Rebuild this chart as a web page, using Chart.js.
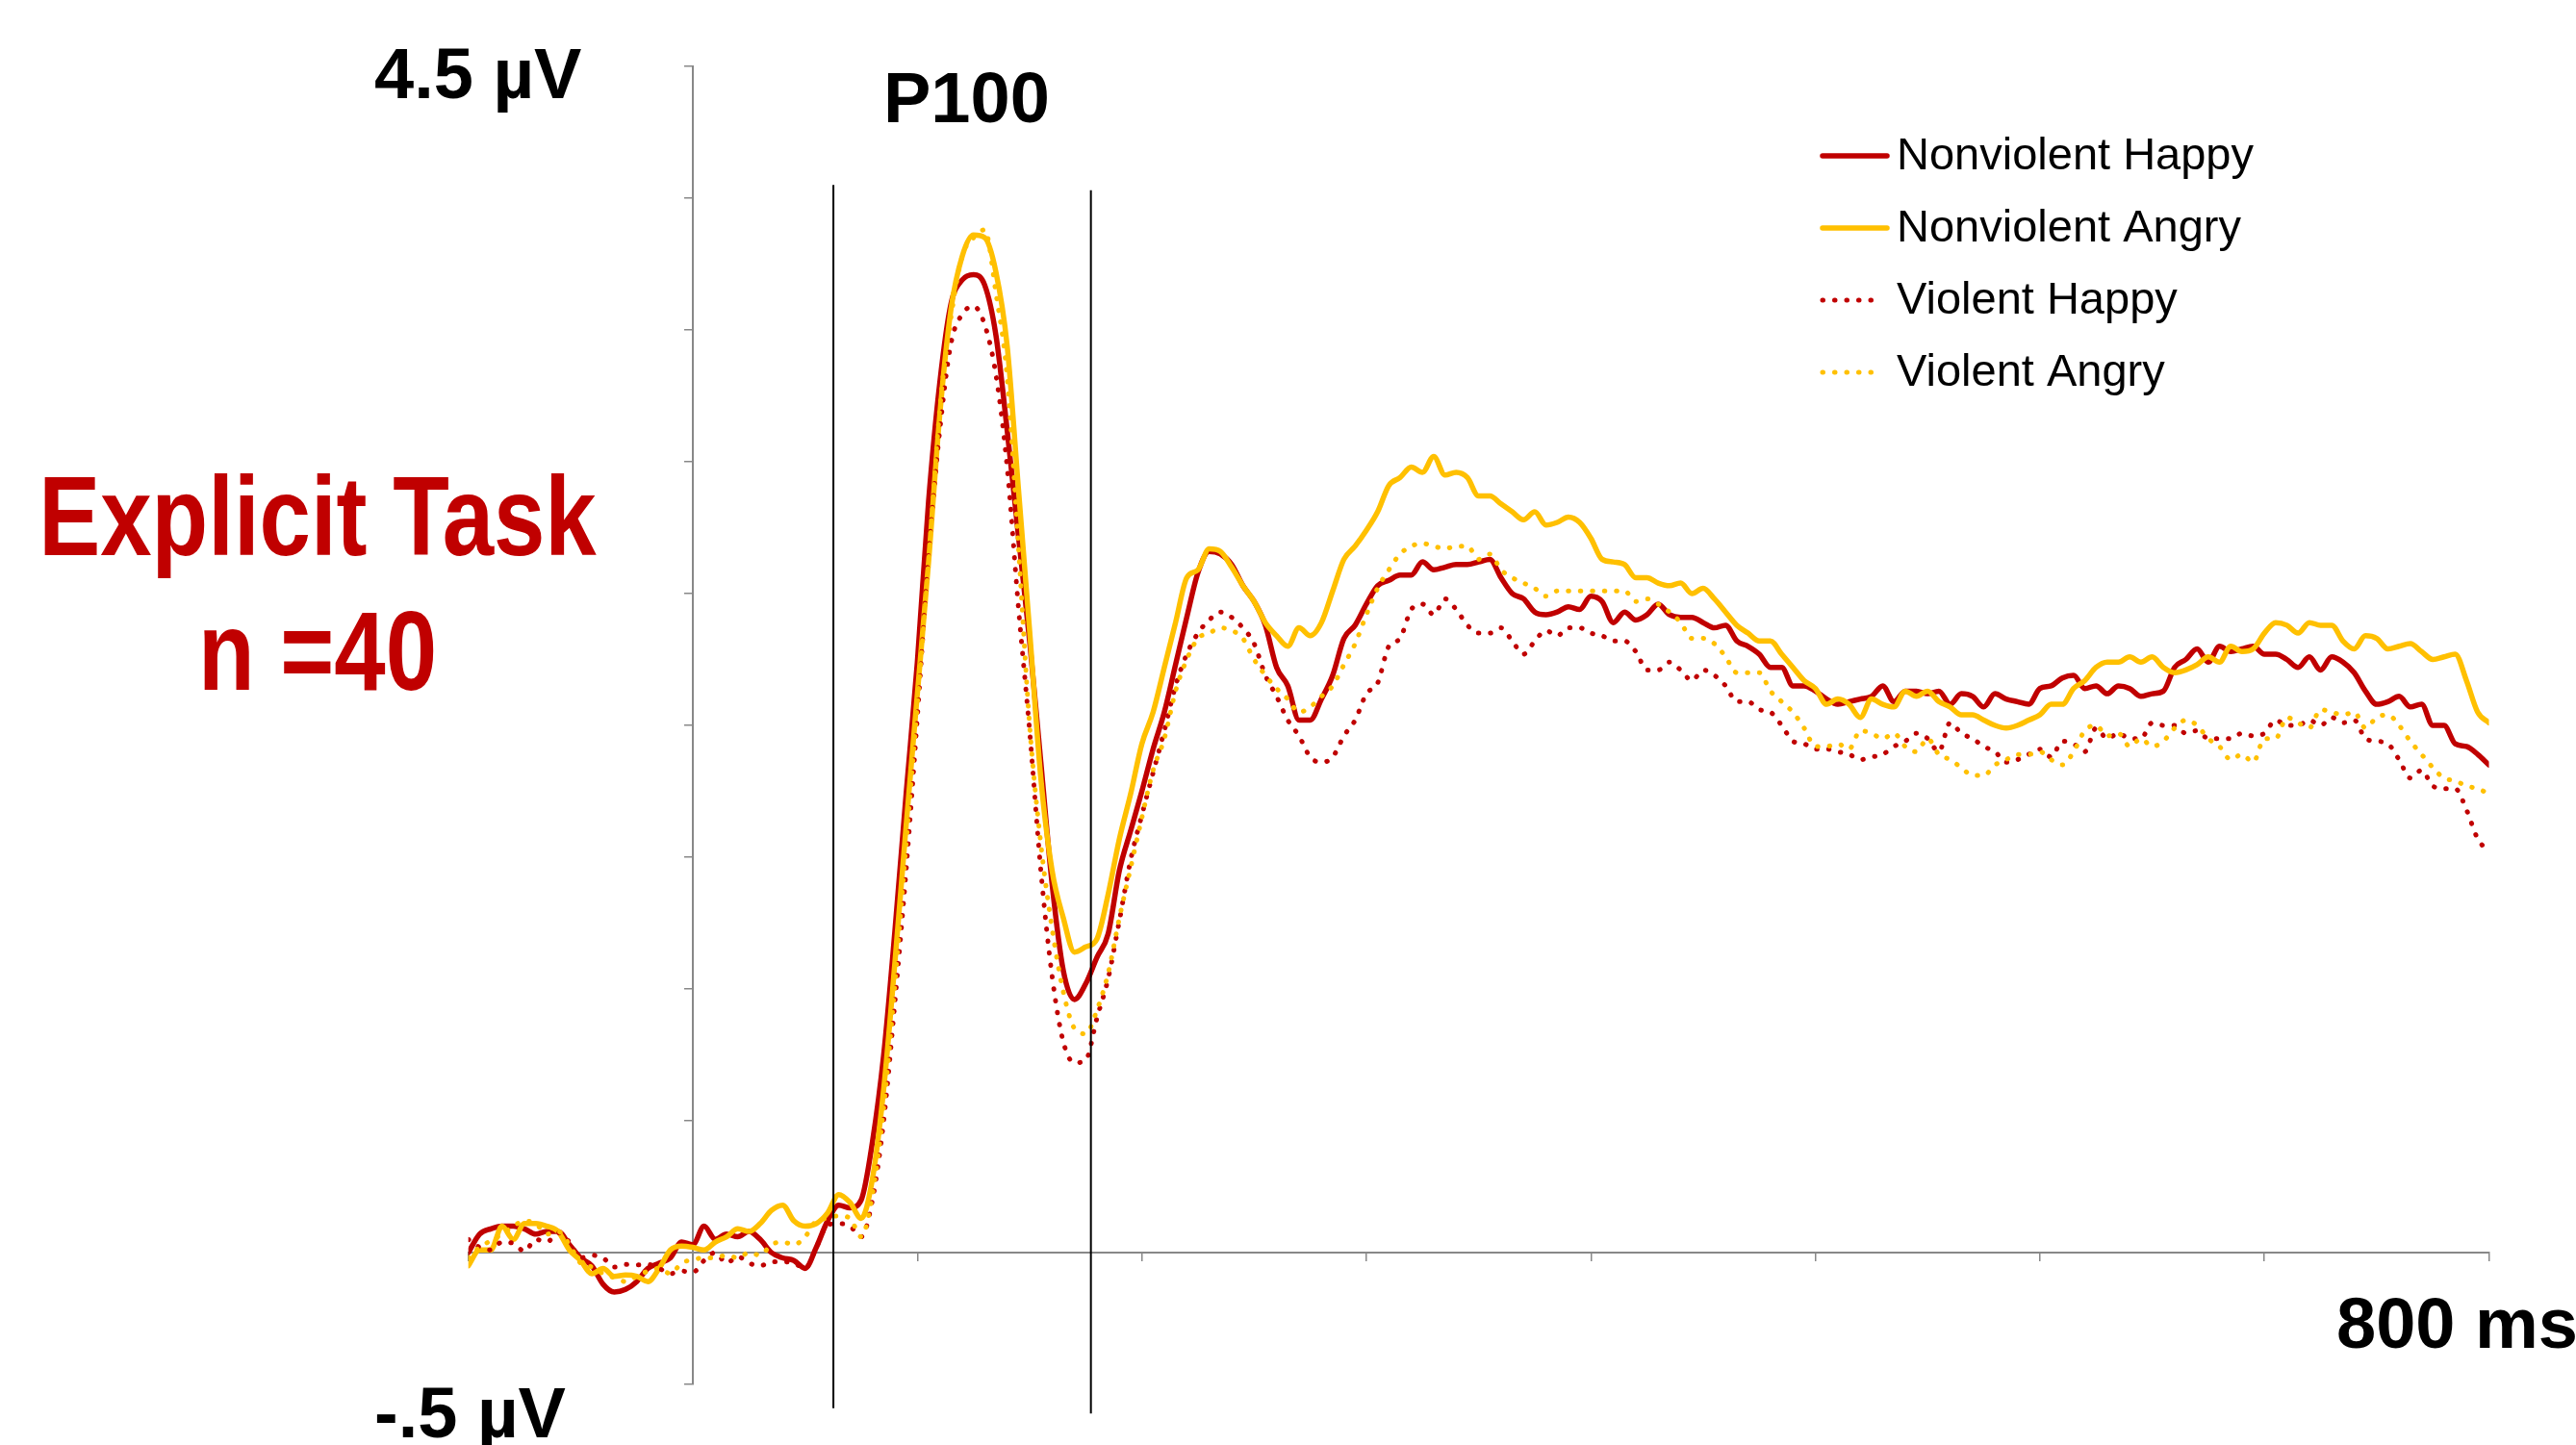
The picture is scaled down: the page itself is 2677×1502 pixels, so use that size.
<!DOCTYPE html>
<html lang="en">
<head>
<meta charset="UTF-8">
<title>P100 - Explicit Task</title>
<script src="https://cdn.jsdelivr.net/npm/chart.js"></script>
<style>
  html, body { margin: 0; padding: 0; background: #fff; overflow: hidden; }
  #wrap { position: relative; width: 2677px; height: 1502px; }
  #erp { position: absolute; left: 0; top: 0; }
  .lbl { position: absolute; font-family: "Liberation Sans", Arial, sans-serif; font-weight: bold;
         line-height: 1; white-space: nowrap; color: #000; }
  .big { font-size: 74px; }
  .task { color: #C00000; font-size: 117px; width: 800px; left: -70px; text-align: center;
          transform: scaleX(0.82); transform-origin: 400px 0; }
</style>
</head>
<body>
<div id="wrap">
  <canvas id="erp" width="2677" height="1502"></canvas>
  <div class="lbl big" style="left:389px; top:40px;">4.5 µV</div>
  <div class="lbl big" style="left:389px; top:1432px;">-.5 µV</div>
  <div class="lbl big" style="left:918px; top:65px;">P100</div>
  <div class="lbl big" style="left:2428px; top:1339px;">800 ms</div>
  <div class="lbl task" style="top:478px;">Explicit Task</div>
  <div class="lbl task" style="top:618px;">n =40</div>
</div>
<script>
// time in ms, one sample every 5 ms
const timesMs = [
  -100, -95, -90, -85, -80, -75, -70, -65, -60, -55,
  -50, -45, -40, -35, -30, -25, -20, -15, -10, -5,
  0, 5, 10, 15, 20, 25, 30, 35, 40, 45,
  50, 55, 60, 65, 70, 75, 80, 85, 90, 95,
  100, 105, 110, 115, 120, 125, 130, 135, 140, 145,
  150, 155, 160, 165, 170, 175, 180, 185, 190, 195,
  200, 205, 210, 215, 220, 225, 230, 235, 240, 245,
  250, 255, 260, 265, 270, 275, 280, 285, 290, 295,
  300, 305, 310, 315, 320, 325, 330, 335, 340, 345,
  350, 355, 360, 365, 370, 375, 380, 385, 390, 395,
  400, 405, 410, 415, 420, 425, 430, 435, 440, 445,
  450, 455, 460, 465, 470, 475, 480, 485, 490, 495,
  500, 505, 510, 515, 520, 525, 530, 535, 540, 545,
  550, 555, 560, 565, 570, 575, 580, 585, 590, 595,
  600, 605, 610, 615, 620, 625, 630, 635, 640, 645,
  650, 655, 660, 665, 670, 675, 680, 685, 690, 695,
  700, 705, 710, 715, 720, 725, 730, 735, 740, 745,
  750, 755, 760, 765, 770, 775, 780, 785, 790, 795,
  800
];

// amplitudes in µV
const nonviolentHappy = [
  0.00, 0.07, 0.09, 0.10, 0.10, 0.09, 0.07, 0.08, 0.08, 0.03,
  -0.02, -0.05, -0.12, -0.15, -0.14, -0.11, -0.06, -0.04, -0.02, 0.04,
  0.03, 0.10, 0.05, 0.07, 0.06, 0.08, 0.05, 0.00, -0.02, -0.03,
  -0.06, 0.02, 0.12, 0.18, 0.17, 0.20, 0.42, 0.75, 1.22, 1.74,
  2.24, 2.85, 3.30, 3.60, 3.69, 3.71, 3.67, 3.48, 3.12, 2.72,
  2.32, 1.86, 1.40, 1.07, 0.96, 1.02, 1.12, 1.21, 1.45, 1.60,
  1.75, 1.91, 2.05, 2.23, 2.41, 2.58, 2.66, 2.65, 2.61, 2.53,
  2.47, 2.38, 2.22, 2.15, 2.02, 2.02, 2.10, 2.19, 2.33, 2.38,
  2.46, 2.53, 2.55, 2.57, 2.57, 2.62, 2.59, 2.60, 2.61, 2.61,
  2.62, 2.63, 2.56, 2.50, 2.48, 2.43, 2.42, 2.43, 2.45, 2.44,
  2.49, 2.47, 2.39, 2.43, 2.40, 2.42, 2.46, 2.42, 2.41, 2.41,
  2.39, 2.37, 2.38, 2.32, 2.30, 2.27, 2.22, 2.22, 2.15, 2.15,
  2.13, 2.10, 2.08, 2.09, 2.10, 2.11, 2.15, 2.09, 2.13, 2.13,
  2.12, 2.13, 2.08, 2.12, 2.11, 2.07, 2.12, 2.10, 2.09, 2.08,
  2.14, 2.15, 2.18, 2.19, 2.14, 2.15, 2.12, 2.15, 2.14, 2.11,
  2.12, 2.13, 2.22, 2.25, 2.29, 2.24, 2.30, 2.28, 2.29, 2.30,
  2.27, 2.27, 2.25, 2.22, 2.26, 2.21, 2.26, 2.24, 2.20, 2.13,
  2.08, 2.09, 2.11, 2.07, 2.08, 2.00, 2.00, 1.93, 1.92, 1.89,
  1.85
];

const nonviolentAngry = [
  -0.05, 0.01, 0.01, 0.10, 0.05, 0.11, 0.11, 0.10, 0.08, 0.01,
  -0.03, -0.08, -0.06, -0.09, -0.085, -0.09, -0.11, -0.06, 0.01, 0.025,
  0.02, 0.01, 0.04, 0.06, 0.09, 0.08, 0.11, 0.16, 0.18, 0.12,
  0.10, 0.11, 0.15, 0.22, 0.19, 0.13, 0.28, 0.62, 1.10, 1.62,
  2.12, 2.62, 3.18, 3.58, 3.78, 3.86, 3.85, 3.72, 3.44, 2.90,
  2.36, 1.80, 1.45, 1.27, 1.14, 1.16, 1.19, 1.36, 1.57, 1.74,
  1.93, 2.05, 2.22, 2.39, 2.56, 2.59, 2.67, 2.66, 2.60, 2.53,
  2.47, 2.39, 2.34, 2.30, 2.37, 2.34, 2.39, 2.51, 2.63, 2.68,
  2.74, 2.81, 2.91, 2.94, 2.98, 2.96, 3.02, 2.95, 2.96, 2.94,
  2.87, 2.87, 2.84, 2.81, 2.78, 2.81, 2.76, 2.77, 2.79, 2.77,
  2.71, 2.63, 2.62, 2.61, 2.56, 2.56, 2.54, 2.53, 2.54, 2.50,
  2.52, 2.48, 2.43, 2.38, 2.35, 2.32, 2.32, 2.27, 2.22, 2.17,
  2.14, 2.08, 2.10, 2.08, 2.03, 2.10, 2.08, 2.07, 2.13, 2.11,
  2.13, 2.09, 2.07, 2.04, 2.04, 2.02, 2.00, 1.99, 2.00, 2.02,
  2.04, 2.08, 2.08, 2.14, 2.17, 2.22, 2.24, 2.24, 2.26, 2.24,
  2.26, 2.22, 2.20, 2.21, 2.23, 2.26, 2.24, 2.30, 2.28, 2.29,
  2.35, 2.39, 2.38, 2.35, 2.39, 2.38, 2.38, 2.32, 2.29, 2.34,
  2.33, 2.29, 2.30, 2.31, 2.28, 2.25, 2.26, 2.27, 2.17, 2.05,
  2.01
];

const violentHappy = [
  0.05, 0.02, 0.01, 0.04, 0.035, 0.005, 0.05, 0.04, 0.075, 0.04,
  -0.02, -0.01, -0.02, -0.055, -0.045, -0.047, -0.045, -0.06, -0.08, -0.07,
  -0.075, -0.03, 0.00, -0.04, -0.015, -0.04, -0.05, -0.035, -0.035, -0.04,
  -0.06, 0.02, 0.105, 0.11, 0.10, 0.06, 0.20, 0.50, 0.95, 1.45,
  2.03, 2.65, 3.12, 3.45, 3.56, 3.59, 3.52, 3.33, 2.98, 2.45,
  1.98, 1.45, 1.05, 0.80, 0.72, 0.73, 0.89, 1.04, 1.26, 1.49,
  1.66, 1.82, 1.98, 2.15, 2.27, 2.35, 2.40, 2.43, 2.41, 2.37,
  2.31, 2.19, 2.11, 2.02, 1.96, 1.88, 1.86, 1.88, 1.96, 2.02,
  2.12, 2.16, 2.30, 2.33, 2.44, 2.46, 2.42, 2.48, 2.44, 2.38,
  2.35, 2.35, 2.37, 2.32, 2.27, 2.32, 2.36, 2.34, 2.37, 2.37,
  2.35, 2.34, 2.32, 2.32, 2.28, 2.21, 2.21, 2.24, 2.21, 2.17,
  2.21, 2.19, 2.15, 2.09, 2.09, 2.06, 2.05, 2.00, 1.94, 1.93,
  1.91, 1.91, 1.90, 1.89, 1.87, 1.88, 1.89, 1.92, 1.94, 1.97,
  1.95, 1.90, 2.01, 1.97, 1.95, 1.92, 1.90, 1.86, 1.87, 1.89,
  1.91, 1.88, 1.94, 1.93, 1.90, 1.99, 1.95, 1.97, 1.95, 1.95,
  2.01, 2.00, 2.00, 1.97, 1.98, 1.95, 1.95, 1.95, 1.97, 1.96,
  1.97, 2.02, 2.00, 2.00, 2.02, 2.00, 2.03, 2.01, 2.02, 1.95,
  1.94, 1.93, 1.87, 1.80, 1.83, 1.77, 1.76, 1.76, 1.68, 1.57,
  1.52
];

const violentAngry = [
  -0.02, 0.02, 0.045, 0.07, 0.10, 0.12, 0.11, 0.07, 0.08, 0.03,
  -0.04, -0.055, -0.08, -0.095, -0.11, -0.09, -0.07, -0.06, -0.08, -0.04,
  -0.027, -0.02, -0.02, -0.01, -0.02, 0.00, -0.01, 0.03, 0.04, 0.03,
  0.06, 0.12, 0.13, 0.14, 0.13, 0.06, 0.22, 0.55, 1.02, 1.55,
  2.08, 2.62, 3.20, 3.55, 3.78, 3.85, 3.88, 3.64, 3.32, 2.68,
  2.00, 1.55, 1.23, 0.99, 0.85, 0.83, 0.92, 1.06, 1.27, 1.46,
  1.65, 1.83, 1.95, 2.13, 2.25, 2.33, 2.35, 2.37, 2.36, 2.33,
  2.25, 2.19, 2.14, 2.10, 2.05, 2.07, 2.11, 2.15, 2.23, 2.31,
  2.42, 2.52, 2.59, 2.65, 2.68, 2.69, 2.68, 2.67, 2.68, 2.68,
  2.63, 2.65, 2.59, 2.56, 2.54, 2.52, 2.49, 2.51, 2.51, 2.51,
  2.51, 2.51, 2.51, 2.51, 2.47, 2.48, 2.46, 2.43, 2.39, 2.33,
  2.33, 2.31, 2.26, 2.20, 2.20, 2.20, 2.13, 2.09, 2.05, 1.99,
  1.92, 1.92, 1.93, 1.91, 1.98, 1.97, 1.95, 1.97, 1.92, 1.90,
  1.95, 1.89, 1.87, 1.84, 1.81, 1.81, 1.85, 1.87, 1.89, 1.89,
  1.90, 1.87, 1.85, 1.90, 1.98, 2.00, 1.96, 1.97, 1.92, 1.95,
  1.92, 1.94, 1.99, 2.02, 2.00, 1.95, 1.92, 1.87, 1.89, 1.86,
  1.95, 1.95, 2.03, 2.01, 1.99, 2.06, 2.05, 2.04, 2.05, 1.99,
  2.03, 2.04, 2.00, 1.94, 1.89, 1.84, 1.80, 1.79, 1.77, 1.76,
  1.74
];

// the two P100 window markers (ms), with their top and bottom ends (µV)
const markerTimes = [62.6, 177.3];
const markerTops = [4.05, 4.03];
const markerBottoms = [-0.59, -0.61];

const RED = '#C00000';
const GOLD = '#FFC000';

function trace(label, values, color, dotted, order) {
  return {
    label: label,
    inLegend: true,
    order: order,
    data: timesMs.map((t, i) => ({ x: t, y: values[i] })),
    borderColor: color,
    borderWidth: dotted ? 5 : 5.5,
    borderDash: dotted ? [0.5, 12] : [],
    borderCapStyle: 'round',
    borderJoinStyle: 'round',
    pointRadius: 0,
    cubicInterpolationMode: 'monotone',
    fill: false
  };
}

const markerSets = markerTimes.map((t, i) => ({
  label: 'marker',
  order: 0,
  data: [{ x: t, y: markerTops[i] }, { x: t, y: markerBottoms[i] }],
  borderColor: '#000',
  borderWidth: 2,
  pointRadius: 0,
  clip: false
}));

// legend drawn inside the plot, top right
const insideLegend = {
  id: 'insideLegend',
  afterDraw(chart) {
    const ctx = chart.ctx;
    const items = chart.data.datasets.filter(d => d.inLegend);
    ctx.save();
    ctx.font = '47px "Liberation Sans", Arial, sans-serif';
    ctx.textBaseline = 'alphabetic';
    items.forEach((d, i) => {
      const y = 162 + i * 75;
      ctx.strokeStyle = d.borderColor;
      ctx.lineWidth = d.borderWidth;
      ctx.lineCap = 'round';
      ctx.setLineDash(d.borderDash);
      ctx.beginPath();
      ctx.moveTo(1894, y);
      ctx.lineTo(d.borderDash.length ? 1956 : 1961, y);
      ctx.stroke();
      ctx.setLineDash([]);
      ctx.fillStyle = '#000';
      ctx.fillText(d.label, 1971, y + 14);
    });
    ctx.restore();
  }
};

const axisGrid = { drawOnChartArea: false, drawTicks: true, tickLength: 8, color: '#888888', lineWidth: 1.5 };
const axisBorder = { display: true, color: '#888888', width: 2 };

new Chart(document.getElementById('erp'), {
  type: 'line',
  data: {
    datasets: [
      trace('Nonviolent Happy', nonviolentHappy, RED, false, 4),
      trace('Nonviolent Angry', nonviolentAngry, GOLD, false, 3),
      trace('Violent Happy', violentHappy, RED, true, 2),
      trace('Violent Angry', violentAngry, GOLD, true, 1),
      ...markerSets
    ]
  },
  options: {
    responsive: false,
    animation: false,
    devicePixelRatio: 1,
    layout: { padding: { left: 486.7, right: 90.5, top: 69, bottom: 63 } },
    plugins: { legend: { display: false }, tooltip: { enabled: false } },
    scales: {
      x: {
        type: 'linear', min: -100, max: 800, position: { y: 0 },
        ticks: { display: false, stepSize: 100 },
        grid: axisGrid, border: axisBorder
      },
      y: {
        type: 'linear', min: -0.5, max: 4.5, position: { x: 0 },
        ticks: { display: false, stepSize: 0.5 },
        grid: axisGrid, border: axisBorder
      }
    }
  },
  plugins: [insideLegend]
});
</script>
</body>
</html>
